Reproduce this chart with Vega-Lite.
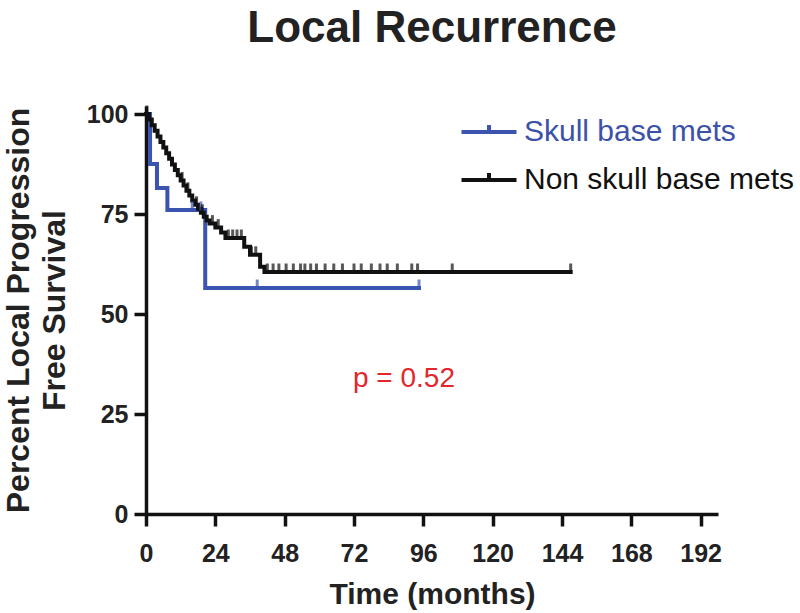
{
  "$schema": "https://vega.github.io/schema/vega-lite/v6.json",
  "autosize": {"type": "none"},
  "width": 572,
  "height": 408,
  "padding": {"left": 146, "top": 106, "right": 82, "bottom": 99},
  "background": "white",
  "config": {
    "view": {"stroke": null},
    "font": "Liberation Sans",
    "axis": {
      "grid": false,
      "domainColor": "#111",
      "domainWidth": 3.5,
      "tickColor": "#111",
      "tickWidth": 3.5,
      "tickSize": 12,
      "labelFont": "Liberation Sans",
      "labelFontWeight": "bold",
      "labelFontSize": 25,
      "labelColor": "#222",
      "titleFont": "Liberation Sans",
      "titleFontWeight": "bold",
      "titleColor": "#222"
    }
  },
  "title": {
    "text": "Local Recurrence",
    "font": "Liberation Sans",
    "fontSize": 44,
    "fontWeight": "bold",
    "color": "#222",
    "anchor": "middle",
    "frame": "group",
    "baseline": "alphabetic",
    "offset": 16
  },
  "datasets": {
    "curves": [
      {"group": "Skull base mets", "month": 0, "surv": 100},
      {"group": "Skull base mets", "month": 1.4, "surv": 87.5},
      {"group": "Skull base mets", "month": 3.8, "surv": 81.5},
      {"group": "Skull base mets", "month": 7.4, "surv": 76},
      {"group": "Skull base mets", "month": 20.5, "surv": 56.5},
      {"group": "Skull base mets", "month": 94.5, "surv": 56.5},
      {"group": "Non skull base mets", "month": 0, "surv": 100},
      {"group": "Non skull base mets", "month": 1, "surv": 98.6},
      {"group": "Non skull base mets", "month": 2, "surv": 97.2},
      {"group": "Non skull base mets", "month": 3, "surv": 95.8},
      {"group": "Non skull base mets", "month": 4, "surv": 94.4},
      {"group": "Non skull base mets", "month": 5, "surv": 93},
      {"group": "Non skull base mets", "month": 6, "surv": 91.6},
      {"group": "Non skull base mets", "month": 7, "surv": 90.2},
      {"group": "Non skull base mets", "month": 8, "surv": 88.8},
      {"group": "Non skull base mets", "month": 9, "surv": 87.4},
      {"group": "Non skull base mets", "month": 10, "surv": 86},
      {"group": "Non skull base mets", "month": 11, "surv": 84.7},
      {"group": "Non skull base mets", "month": 12, "surv": 83.4},
      {"group": "Non skull base mets", "month": 13, "surv": 82.1},
      {"group": "Non skull base mets", "month": 14, "surv": 80.8},
      {"group": "Non skull base mets", "month": 15, "surv": 79.6},
      {"group": "Non skull base mets", "month": 16, "surv": 78.4},
      {"group": "Non skull base mets", "month": 17, "surv": 77.3},
      {"group": "Non skull base mets", "month": 18, "surv": 76.3},
      {"group": "Non skull base mets", "month": 19, "surv": 75.3},
      {"group": "Non skull base mets", "month": 20, "surv": 74.3},
      {"group": "Non skull base mets", "month": 21, "surv": 73.4},
      {"group": "Non skull base mets", "month": 22, "surv": 72.6},
      {"group": "Non skull base mets", "month": 24, "surv": 71.6},
      {"group": "Non skull base mets", "month": 26, "surv": 70.4},
      {"group": "Non skull base mets", "month": 27.5, "surv": 69},
      {"group": "Non skull base mets", "month": 34, "surv": 66.8},
      {"group": "Non skull base mets", "month": 36, "surv": 64.8},
      {"group": "Non skull base mets", "month": 39.5, "surv": 61.8},
      {"group": "Non skull base mets", "month": 41, "surv": 60.5},
      {"group": "Non skull base mets", "month": 147, "surv": 60.5}
    ],
    "censors": [
      {"group": "Skull base mets", "month": 16, "surv": 76},
      {"group": "Skull base mets", "month": 19, "surv": 76},
      {"group": "Skull base mets", "month": 38.5, "surv": 56.5},
      {"group": "Skull base mets", "month": 94.5, "surv": 56.5},
      {"group": "Non skull base mets", "month": 0.3, "surv": 100},
      {"group": "Non skull base mets", "month": 12.5, "surv": 83.4},
      {"group": "Non skull base mets", "month": 14.5, "surv": 80.8},
      {"group": "Non skull base mets", "month": 17.5, "surv": 77.3},
      {"group": "Non skull base mets", "month": 19.5, "surv": 75.3},
      {"group": "Non skull base mets", "month": 23, "surv": 72.6},
      {"group": "Non skull base mets", "month": 25, "surv": 71.6},
      {"group": "Non skull base mets", "month": 28.5, "surv": 69},
      {"group": "Non skull base mets", "month": 30, "surv": 69},
      {"group": "Non skull base mets", "month": 31.5, "surv": 69},
      {"group": "Non skull base mets", "month": 33, "surv": 69},
      {"group": "Non skull base mets", "month": 36.5, "surv": 64.8},
      {"group": "Non skull base mets", "month": 38, "surv": 64.8},
      {"group": "Non skull base mets", "month": 42, "surv": 60.5},
      {"group": "Non skull base mets", "month": 44, "surv": 60.5},
      {"group": "Non skull base mets", "month": 46, "surv": 60.5},
      {"group": "Non skull base mets", "month": 48.5, "surv": 60.5},
      {"group": "Non skull base mets", "month": 51, "surv": 60.5},
      {"group": "Non skull base mets", "month": 53.5, "surv": 60.5},
      {"group": "Non skull base mets", "month": 55, "surv": 60.5},
      {"group": "Non skull base mets", "month": 57, "surv": 60.5},
      {"group": "Non skull base mets", "month": 59, "surv": 60.5},
      {"group": "Non skull base mets", "month": 62, "surv": 60.5},
      {"group": "Non skull base mets", "month": 65, "surv": 60.5},
      {"group": "Non skull base mets", "month": 68, "surv": 60.5},
      {"group": "Non skull base mets", "month": 72, "surv": 60.5},
      {"group": "Non skull base mets", "month": 74.5, "surv": 60.5},
      {"group": "Non skull base mets", "month": 78, "surv": 60.5},
      {"group": "Non skull base mets", "month": 81, "surv": 60.5},
      {"group": "Non skull base mets", "month": 83.5, "surv": 60.5},
      {"group": "Non skull base mets", "month": 87, "surv": 60.5},
      {"group": "Non skull base mets", "month": 92, "surv": 60.5},
      {"group": "Non skull base mets", "month": 94, "surv": 60.5},
      {"group": "Non skull base mets", "month": 106, "surv": 60.5},
      {"group": "Non skull base mets", "month": 147, "surv": 60.5}
    ],
    "annot": [
      {"label": "p = 0.52", "month": 89.3, "surv": 31.8}
    ]
  },
  "layer": [
    {
      "data": {"name": "curves"},
      "mark": {"type": "line", "interpolate": "step-after", "strokeWidth": 4, "strokeCap": "square"},
      "encoding": {
        "x": {
          "field": "month", "type": "quantitative",
          "scale": {"domain": [0, 198], "nice": false, "zero": false},
          "axis": {
            "values": [0, 24, 48, 72, 96, 120, 144, 168, 192],
            "title": "Time (months)",
            "titleFontSize": 30,
            "titleBaseline": "alphabetic",
            "titleY": 89,
            "labelPadding": 15,
            "labelFlush": false
          }
        },
        "y": {
          "field": "surv", "type": "quantitative",
          "scale": {"domain": [0, 102], "nice": false},
          "axis": {
            "values": [0, 25, 50, 75, 100],
            "title": ["Percent Local Progression", "Free Survival"],
            "titleFontSize": 32,
            "titleLineHeight": 36,
            "titleAngle": -90,
            "titleBaseline": "top",
            "titleAlign": "center",
            "titleX": -143,
            "titleY": 204,
            "labelPadding": 6
          }
        },
        "color": {
          "field": "group", "type": "nominal",
          "scale": {"domain": ["Skull base mets", "Non skull base mets"], "range": ["#3b54b0", "#111111"]},
          "legend": {
            "title": null,
            "orient": "none",
            "legendX": 328,
            "legendY": 11,
            "symbolType": "M-2.75,0H2.75M0,0V-0.7",
            "symbolSize": 400,
            "symbolStrokeWidth": 4,
            "symbolFillColor": "transparent",
            "labelFont": "Liberation Sans",
            "labelFontSize": 30,
            "labelOffset": 20,
            "labelLimit": 400,
            "rowPadding": 18,
            "encode": {
              "labels": {
                "update": {
                  "fill": {"signal": "datum.value === 'Skull base mets' ? '#3c51a8' : '#111111'"}
                }
              }
            }
          }
        }
      }
    },
    {
      "data": {"name": "censors"},
      "mark": {"type": "tick", "orient": "vertical", "size": 9, "thickness": 3, "yOffset": -4},
      "encoding": {
        "x": {"field": "month", "type": "quantitative"},
        "y": {"field": "surv", "type": "quantitative"},
        "color": {"field": "group", "type": "nominal", "legend": null}
      }
    },
    {
      "data": {"name": "annot"},
      "mark": {"type": "text", "font": "Liberation Sans", "fontSize": 28, "color": "#e3262b", "align": "center", "baseline": "alphabetic"},
      "encoding": {
        "x": {"field": "month", "type": "quantitative"},
        "y": {"field": "surv", "type": "quantitative"},
        "text": {"field": "label"}
      }
    }
  ]
}
